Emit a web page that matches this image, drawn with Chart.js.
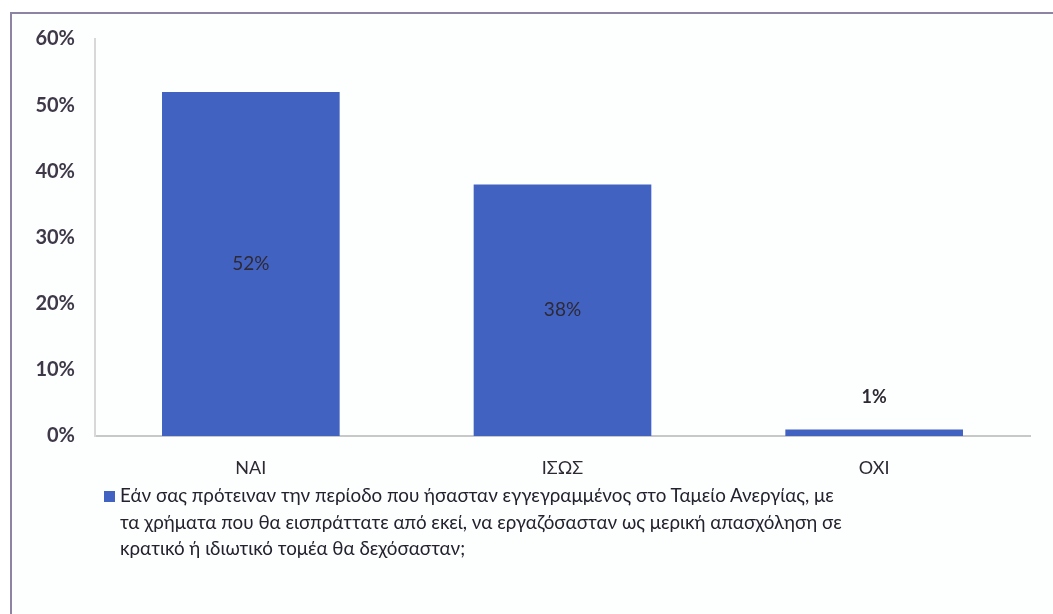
<!DOCTYPE html>
<html>
  <head>
    <title>Μερική απασχόληση</title>
    <script src="https://cdn.jsdelivr.net/npm/chart.js"></script>
    <style>
      body { margin: 0; background: #fff; }
      #frame {
        position: absolute; left: 10px; top: 12px; width: 1045px; height: 640px;
        border: 2px solid #8c84a2; border-bottom: none; border-right: none; background: #fdfefe;
      }
      #wrap { position: absolute; left: 0; top: -7px; width: 1040px; height: 477px; }
      #legend {
        position: absolute; left: 92px; top: 468px; width: 940px;
        font-family: Lato, "Noto Sans", sans-serif; font-size: 18.8px; line-height: 26.5px;
        color: #24222e;
      }
      #legend .box {
        position: absolute; left: 0; top: 9px; width: 11px; height: 11px; background: #4262c2;
      }
      #legend .txt { position: absolute; left: 16px; top: 0; white-space: nowrap; }
    </style>
  </head>
  <body>
    <div id="frame">
      <div id="wrap"><canvas id="pollChart"></canvas></div>
      <div id="legend"><span class="box"></span><span class="txt" id="legendText"></span></div>
    </div>
    <script>
      // values
      const categories = ["ΝΑΙ", "ΙΣΩΣ", "ΌΧΙ"];
      const answers = [52, 38, 1];
      const yTicks = [0, 10, 20, 30, 40, 50, 60];
      const seriesLabel = [
        "Εάν σας πρότειναν την περίοδο που ήσασταν εγγεγραμμένος στο Ταμείο Ανεργίας, με",
        "τα χρήματα που θα εισπράττατε από εκεί, να εργαζόσασταν ως μερική απασχόληση σε",
        "κρατικό ή ιδιωτικό τομέα θα δεχόσασταν;",
      ];

      document.getElementById("legendText").innerHTML = seriesLabel.join("<br>");

      const barColor = "#4262c2";
      const fontFamily = "Lato, 'Noto Sans', sans-serif";

      // percent labels on the bars
      const valueLabels = {
        id: "valueLabels",
        afterDatasetsDraw(chart) {
          const ctx = chart.ctx;
          const meta = chart.getDatasetMeta(0);
          ctx.save();
          ctx.textAlign = "center";
          ctx.textBaseline = "middle";
          ctx.fillStyle = "#2e2a34";
          meta.data.forEach((bar, i) => {
            const v = answers[i];
            let y = (bar.y + bar.base) / 2;
            if (v < 5) {
              y = bar.y - 32;
              ctx.font = "bold 18px " + fontFamily;
            } else {
              ctx.font = "19px " + fontFamily;
            }
            ctx.fillText(v + "%", bar.x, y);
          });
          ctx.restore();
        },
      };

      const ctx = document.getElementById("pollChart").getContext("2d");
      new Chart(ctx, {
        type: "bar",
        data: {
          labels: categories,
          datasets: [
            {
              label: seriesLabel.join(" "),
              data: answers,
              backgroundColor: barColor,
              categoryPercentage: 1,
              barPercentage: 0.57,
            },
          ],
        },
        options: {
          responsive: true,
          maintainAspectRatio: false,
          animation: false,
          layout: { padding: { top: 10, right: 22, bottom: 0, left: 0 } },
          scales: {
            x: {
              grid: { display: false },
              border: { color: "#c8c8c8", width: 2 },
              ticks: {
                padding: 13,
                color: "#2e2a34",
                font: { family: fontFamily, size: 18 },
              },
              afterFit: (scale) => { scale.height = 48; },
            },
            y: {
              min: 0,
              max: 60,
              afterBuildTicks: (scale) => {
                scale.ticks = yTicks.map((v) => ({ value: v }));
              },
              grid: { display: false, drawTicks: false },
              border: { color: "#d8d8d8", width: 2 },
              ticks: {
                padding: 20,
                color: "#3e3848",
                font: { family: fontFamily, size: 20, weight: "bold" },
                callback: (v) => v + "%",
              },
              afterFit: (scale) => { scale.width = 83; },
            },
          },
          plugins: {
            legend: { display: false },
            tooltip: { enabled: false },
          },
        },
        plugins: [valueLabels],
      });
    </script>
  </body>
</html>
